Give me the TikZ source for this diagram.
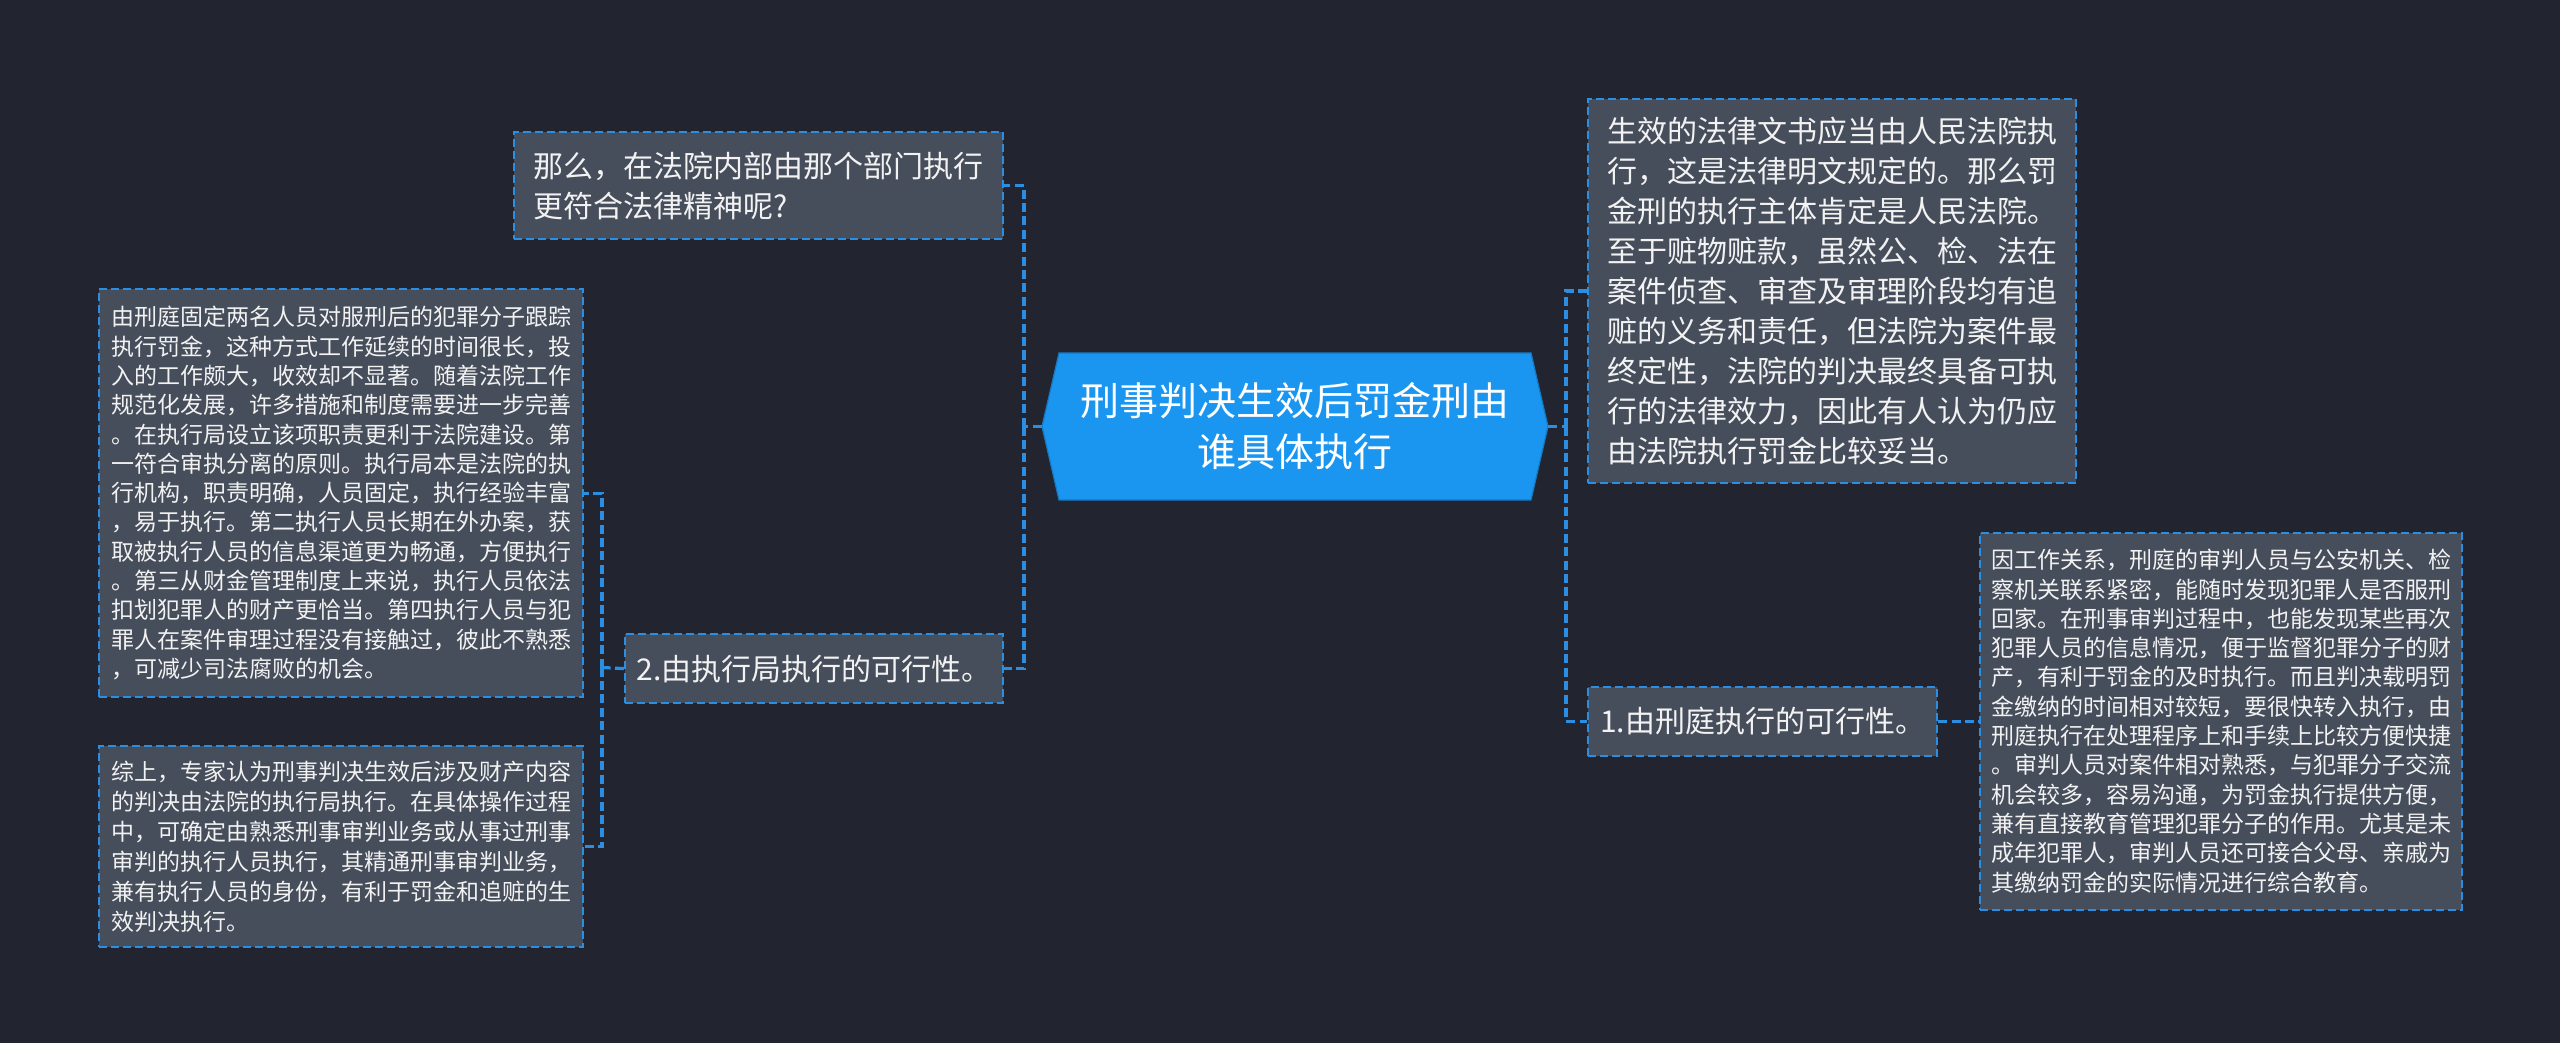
\documentclass[tikz,border=0pt]{standalone}
\usepackage{fontspec}
\newfontfamily\cjk{Noto Sans CJK SC}
\definecolor{bgc}{HTML}{22252F}
\definecolor{boxfill}{HTML}{464D5B}
\definecolor{bblue}{HTML}{2C8EE0}
\definecolor{cfill}{HTML}{1B96F0}
\definecolor{txt}{HTML}{F2F2F2}
\begin{document}
\begin{tikzpicture}[x=0.5pt,y=-0.5pt,
  box/.style={draw=bblue, fill=boxfill, line width=1.1pt, dash pattern=on 4pt off 2pt,
    text=txt, align=left, anchor=north west, inner sep=0pt},
  midfont/.style={font=\cjk\fontsize{15pt}{20pt}\selectfont},
  smallfont/.style={font=\cjk\fontsize{11.5pt}{14.65pt}\selectfont},
  conn/.style={draw=bblue, line width=1.6pt, dash pattern=on 4.5pt off 2.2pt}]
\useasboundingbox (0,0) rectangle (2560,1043);
\fill[bgc] (0,0) rectangle (2560,1043);
% central topic
\fill[cfill, draw=cfill!80!black, line width=0.6pt] (1042,426.5) -- (1059,353) -- (1531,353) -- (1548,426.5) -- (1531,500) -- (1059,500) -- cycle;
\node[minimum width=253pt, minimum height=73.5pt, inner sep=0pt, text=white, align=center,
  font=\cjk\fontsize{19.5pt}{25.5pt}\selectfont] (c) at (1295,426.5) {刑事判决生效后罚金刑由\\谁具体执行};
% left branch
\node[box, midfont, minimum width=244.5pt, minimum height=53.5pt] (topL) at (513,131)
 {那么，在法院内部由那个部门执行\\更符合法律精神呢?};
\node[box, midfont, minimum width=189pt, minimum height=34.5pt] (n2) at (624,633)
 {2.由执行局执行的可行性。};
\node[box, smallfont, minimum width=242pt, minimum height=204pt] (lb) at (98,288)
 {由刑庭固定两名人员对服刑后的犯罪分子跟踪\\执行罚金，这种方式工作延续的时间很长，投\\入的工作颇大，收效却不显著。随着法院工作\\规范化发展，许多措施和制度需要进一步完善\\。在执行局设立该项职责更利于法院建设。第\\一符合审执分离的原则。执行局本是法院的执\\行机构，职责明确，人员固定，执行经验丰富\\，易于执行。第二执行人员长期在外办案，获\\取被执行人员的信息渠道更为畅通，方便执行\\。第三从财金管理制度上来说，执行人员依法\\扣划犯罪人的财产更恰当。第四执行人员与犯\\罪人在案件审理过程没有接触过，彼此不熟悉\\，可减少司法腐败的机会。};
\node[box, font=\cjk\fontsize{11.5pt}{15pt}\selectfont, minimum width=242pt, minimum height=100.5pt] (lbot) at (98,745)
 {综上，专家认为刑事判决生效后涉及财产内容\\的判决由法院的执行局执行。在具体操作过程\\中，可确定由熟悉刑事审判业务或从事过刑事\\审判的执行人员执行，其精通刑事审判业务，\\兼有执行人员的身份，有利于罚金和追赃的生\\效判决执行。};
% right branch
\node[box, midfont, minimum width=244pt, minimum height=192pt] (topR) at (1587,98)
 {生效的法律文书应当由人民法院执\\行，这是法律明文规定的。那么罚\\金刑的执行主体肯定是人民法院。\\至于赃物赃款，虽然公、检、法在\\案件侦查、审查及审理阶段均有追\\赃的义务和责任，但法院为案件最\\终定性，法院的判决最终具备可执\\行的法律效力，因此有人认为仍应\\由法院执行罚金比较妥当。};
\node[box, midfont, minimum width=174.5pt, minimum height=34.5pt] (n1) at (1587,685.5)
 {1.由刑庭执行的可行性。};
\node[box, smallfont, minimum width=241pt, minimum height=188.5pt] (rb) at (1979,531.5)
 {因工作关系，刑庭的审判人员与公安机关、检\\察机关联系紧密，能随时发现犯罪人是否服刑\\回家。在刑事审判过程中，也能发现某些再次\\犯罪人员的信息情况，便于监督犯罪分子的财\\产，有利于罚金的及时执行。而且判决载明罚\\金缴纳的时间相对较短，要很快转入执行，由\\刑庭执行在处理程序上和手续上比较方便快捷\\。审判人员对案件相对熟悉，与犯罪分子交流\\机会较多，容易沟通，为罚金执行提供方便，\\兼有直接教育管理犯罪分子的作用。尤其是未\\成年犯罪人，审判人员还可接合父母、亲戚为\\其缴纳罚金的实际情况进行综合教育。};
% junctions
\coordinate (lj) at (1024,426.5);
\coordinate (rj) at (1566,426.5);
\coordinate (lj2) at (602,667.5);
% connectors
\draw[conn] (c.west) -- (lj);
\draw[conn] (lj) |- (topL.east);
\draw[conn] (lj) |- (n2.east);
\draw[conn] (c.east) -- (rj);
\draw[conn] (rj) |- (topR.west);
\draw[conn] (rj) |- (n1.west);
\draw[conn] (n2.west) -- (lj2);
\draw[conn] (lj2) |- (lb.east);
\draw[conn] (lj2) |- (lbot.east);
\draw[conn] (n1.east) -- (rb.west);
\end{tikzpicture}
\end{document}
